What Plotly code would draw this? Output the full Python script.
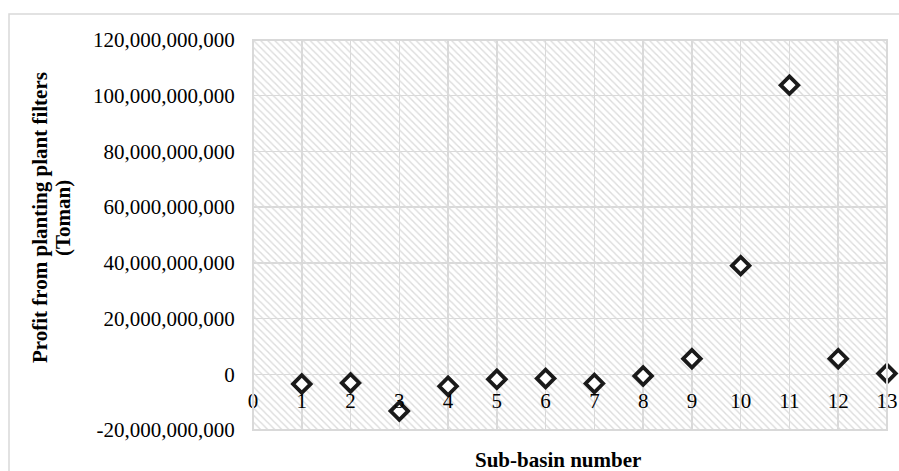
import plotly.graph_objects as go

sub_basins = [1, 2, 3, 4, 5, 6, 7, 8, 9, 10, 11, 12, 13]
profit = [-3.5e9, -3.1e9, -13.2e9, -4.3e9, -1.8e9, -1.5e9, -3.3e9, -0.6e9,
          5.6e9, 39.0e9, 103.8e9, 5.6e9, 0.3e9]

x_ticks = list(range(0, 14))
y_ticks = [-20e9, 0, 20e9, 40e9, 60e9, 80e9, 100e9, 120e9]
y_tick_labels = ["-20,000,000,000", "0", "20,000,000,000", "40,000,000,000",
                 "60,000,000,000", "80,000,000,000", "100,000,000,000",
                 "120,000,000,000"]
y_title_lines = ["Profit from planting plant filters", "(Toman)"]
x_title = "Sub-basin number"

FONT = "Liberation Serif"
GRID = "#d9d9d9"

fig = go.Figure()

# hatched background of the plot area (decoration)
fig.add_trace(go.Bar(
    x=[0.5], y=[1], base=0, width=1,
    xaxis="x", yaxis="y",
    marker=dict(color="rgba(0,0,0,0)", line=dict(width=0),
                pattern=dict(shape="\\", size=5, solidity=0.28,
                             fgcolor="#dcdcdc", bgcolor="rgba(0,0,0,0)",
                             fillmode="replace")),
    hoverinfo="skip", showlegend=False,
))

fig.add_trace(go.Scatter(
    x=sub_basins, y=profit, mode="markers",
    xaxis="x2", yaxis="y2",
    marker=dict(symbol="diamond", size=13.5, color="white",
                line=dict(width=3.8, color="#1a1a1a")),
    cliponaxis=False, showlegend=False,
))

PL, PR, PT, PB = 253, 887, 40, 430   # target plot-area box on screen
W = PR - PL
H = PB - PT


def px(x):
    return (x - PL) / W


def py(y):
    return (PB - y) / H


fig.update_layout(
    width=899, height=471,
    margin=dict(l=PL, r=899 - PR, t=PT, b=471 - PB, autoexpand=False),
    paper_bgcolor="white", plot_bgcolor="white",
    font=dict(family=FONT, size=21, color="black"),
    xaxis=dict(range=[0, 1], visible=False, fixedrange=True),
    yaxis=dict(range=[0, 1], visible=False, fixedrange=True),
    xaxis2=dict(overlaying="x", anchor="free", position=20/140,
                range=[0, 13], tickvals=x_ticks,
                ticktext=[str(v) for v in x_ticks],
                showgrid=True, gridcolor=GRID, gridwidth=1.5,
                zeroline=False, showline=False, automargin=False,
                ticks="outside", ticklen=8, tickcolor="rgba(0,0,0,0)",
                tickfont=dict(family=FONT, size=21, color="black")),
    yaxis2=dict(overlaying="y", anchor="free", position=0,
                range=[-20e9, 120e9], tickvals=y_ticks,
                ticktext=y_tick_labels,
                showgrid=True, gridcolor=GRID, gridwidth=1.5,
                zeroline=False, showline=False, automargin=False,
                ticks="outside", ticklen=14, tickcolor="rgba(0,0,0,0)",
                tickfont=dict(family=FONT, size=21, color="black")),
    bargap=0,
    shapes=[
        dict(type="rect", xref="paper", yref="paper", x0=0, x1=1, y0=0, y1=1,
             line=dict(color=GRID, width=2), layer="above"),
        dict(type="rect", xref="paper", yref="paper",
             x0=px(9), x1=px(910), y0=py(14), y1=py(490),
             line=dict(color=GRID, width=1.5), layer="above"),
    ],
    annotations=[
        dict(text="<b>%s</b>" % y_title_lines[0],
             xref="paper", yref="paper", x=px(40), y=py(218),
             xanchor="center", yanchor="middle", textangle=-90,
             showarrow=False, font=dict(family=FONT, size=21, color="black")),
        dict(text="<b>%s</b>" % y_title_lines[1],
             xref="paper", yref="paper", x=px(63), y=py(218),
             xanchor="center", yanchor="middle", textangle=-90,
             showarrow=False, font=dict(family=FONT, size=21, color="black")),
        dict(text="<b>%s</b>" % x_title,
             xref="paper", yref="paper", x=px(557.5), y=py(460),
             xanchor="center", yanchor="middle",
             showarrow=False, font=dict(family=FONT, size=21, color="black")),
    ],
)

fig.write_html(
    "out.html",
    config={"displayModeBar": False, "staticPlot": True},
    post_script="document.body.style.margin='0';"
                "document.documentElement.style.overflow='hidden';"
                "document.body.style.overflow='hidden';",
)
